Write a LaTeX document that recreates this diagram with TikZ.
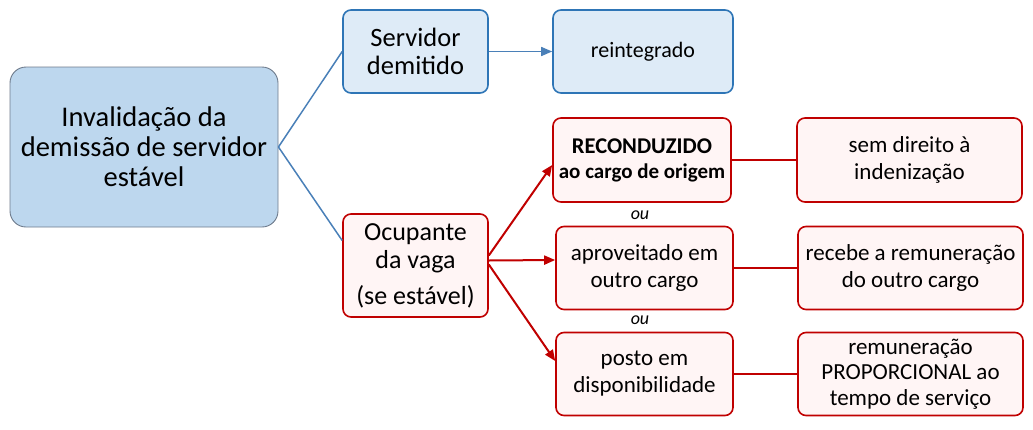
\documentclass[tikz,border=0pt]{standalone}
\usepackage{fontspec}
\setmainfont{Carlito}
\usetikzlibrary{arrows.meta,calc}
\definecolor{mainfill}{HTML}{BDD7EE}
\definecolor{mainline}{HTML}{6E7B8C}
\definecolor{bluefill}{HTML}{DEEBF7}
\definecolor{blueline}{HTML}{2E75B6}
\definecolor{connblue}{HTML}{4A80B8}
\definecolor{redfill}{HTML}{FFF5F5}
\definecolor{redline}{HTML}{C00000}
\tikzset{
  box/.style={rectangle, rounded corners=8pt, inner sep=0pt, align=center, line width=1.6pt},
  mainbox/.style={box, draw=mainline, fill=mainfill, line width=0.9pt, rounded corners=16pt},
  bluebox/.style={box, draw=blueline, fill=bluefill},
  redbox/.style={box, draw=redline, fill=redfill},
  bluecon/.style={draw=connblue, line width=1.5pt},
  redcon/.style={draw=redline, line width=2pt},
  tip/.style={-{Triangle[length=11pt,width=9pt]}},
}
\begin{document}
\begin{tikzpicture}[x=1pt,y=-1pt]
\useasboundingbox (0,0) rectangle (1033,429);
\node[mainbox, minimum width=268pt, minimum height=160pt, font=\fontsize{28.5}{30}\selectfont] (main) at (144,147) {Invalidação da\\demissão de servidor\\estável};
\node[bluebox, minimum width=145pt, minimum height=83pt, font=\fontsize{26.5}{28}\selectfont] (srv) at (415.5,51.5) {Servidor\\demitido};
\node[bluebox, minimum width=180pt, minimum height=83pt, font=\fontsize{22}{27}\selectfont] (rei) at (643,51.5) {reintegrado};
\node[redbox, minimum width=145pt, minimum height=103pt, font=\fontsize{26}{28}\selectfont] (ocu) at (415.5,265.5) {Ocupante\\da vaga\\[8pt](se estável)};
\node[redbox, minimum width=178pt, minimum height=84pt, font=\fontsize{22.5}{25}\selectfont\bfseries] (rec) at (642,160) {RECONDUZIDO\\{\fontsize{21}{25}\selectfont ao cargo de origem}};
\node[redbox, minimum width=177pt, minimum height=83pt, font=\fontsize{23}{27}\selectfont] (apr) at (644.5,268) {aproveitado em\\outro cargo};
\node[redbox, minimum width=177pt, minimum height=83pt, font=\fontsize{23}{27}\selectfont] (pos) at (644.5,374) {posto em\\disponibilidade};
\node[redbox, minimum width=225pt, minimum height=84pt, font=\fontsize{23}{27}\selectfont] (sem) at (909.5,160) {sem direito à\\indenização};
\node[redbox, minimum width=225pt, minimum height=83pt, font=\fontsize{23}{27}\selectfont] (reb) at (910.5,268) {recebe a remuneração\\do outro cargo};
\node[redbox, minimum width=225pt, minimum height=83pt, font=\fontsize{23}{25.5}\selectfont] (rem) at (910.5,374) {remuneração\\PROPORCIONAL ao\\tempo de serviço};
\node[font=\fontsize{18}{20}\selectfont\itshape] (ou1) at (640,215) {ou};
\node[font=\fontsize{18}{20}\selectfont\itshape] (ou2) at (640,320) {ou};
\draw[bluecon] (main.east) -- (srv.west);
\draw[bluecon] (main.east) -- ([yshift=25pt]ocu.west);
\draw[bluecon, tip] (srv.east) -- (rei.west);
\draw[redcon, tip] ([yshift=10pt]ocu.east) -- ([yshift=-5pt]rec.west);
\draw[redcon, tip] ([yshift=5pt]ocu.east) -- ([yshift=8pt]apr.west);
\draw[redcon, tip] ([yshift=1pt]ocu.east) -- ([yshift=13pt]pos.west);
\draw[redcon] (rec.east) -- (sem.west);
\draw[redcon] (apr.east) -- (reb.west);
\draw[redcon] (pos.east) -- (rem.west);
\end{tikzpicture}
\end{document}
